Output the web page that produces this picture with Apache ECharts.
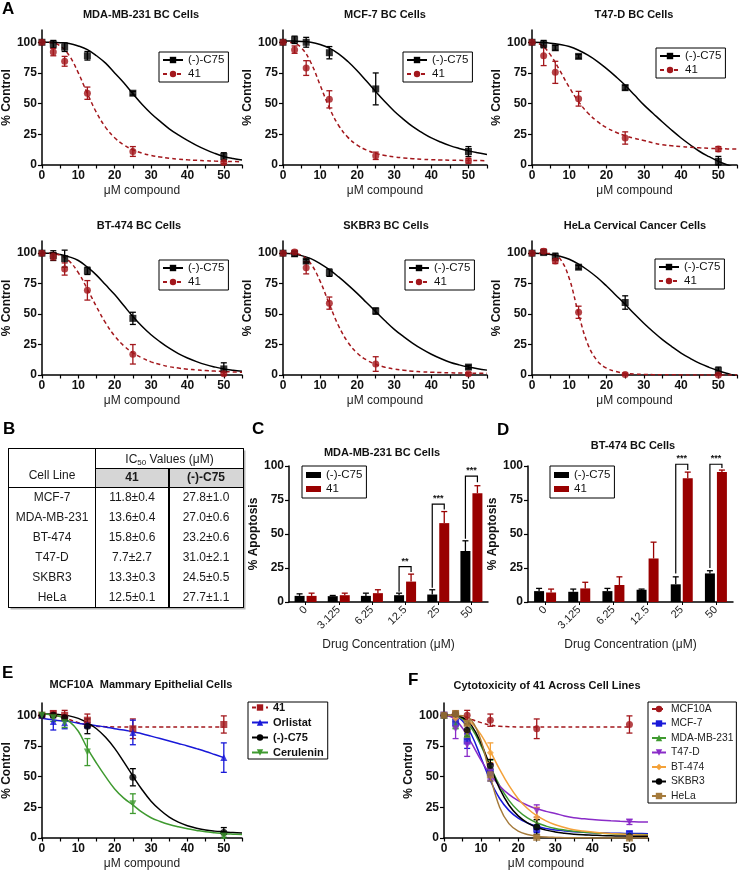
<!DOCTYPE html>
<html><head><meta charset="utf-8">
<script src="https://cdn.jsdelivr.net/npm/echarts@6/dist/echarts.min.js"></script>
<style>html,body{margin:0;padding:0;background:#fff}#c{width:739px;height:875px}</style>
</head><body><div id="c"></div><script>
const FONT = '"Liberation Sans", Arial, sans-serif';

// ---------- data ----------
const doses = [0, 3.125, 6.25, 12.5, 25, 50];
const curveX = [0, 2.5, 5, 7.5, 10, 12.5, 15, 17.5, 20, 22.5, 25, 27.5, 30, 32.5, 35, 37.5, 40, 42.5, 45, 47.5, 50, 52.5, 55];
const xTickLabels = [0, 10, 20, 30, 40, 50];
const yTickLabels = [0, 25, 50, 75, 100];

// Panel A: MDA-MB-231
const mdaC75 = [100, 98.5, 96, 89, 58.5, 7];
const mdaC75Err = [0, 3, 3.5, 3.5, 1.5, 3];
const mdaC75Fit = [100, 100, 99.7, 99, 97, 94, 89, 83, 75, 67, 58, 49.5, 42, 35.5, 29.5, 24.5, 20, 16, 12.5, 9.5, 7, 5.3, 4];
const mda41 = [100, 92, 84.5, 58.5, 11, 2];
const mda41Err = [0, 3, 4, 5, 4, 1];
const mda41Fit = [100, 99.7, 97.1, 89.2, 75.1, 58.2, 42.7, 30.7, 22.2, 16.4, 12.4, 9.7, 7.8, 6.5, 5.5, 4.8, 4.2, 3.8, 3.5, 3.2, 3.0, 2.85, 2.7];
// MCF-7
const mcf7C75 = [100, 102, 100, 91.5, 62, 11];
const mcf7C75Err = [0, 3, 4, 5, 13, 4];
const mcf7C75Fit = [101, 101, 100.7, 100, 98.2, 95.2, 90.6, 84.3, 76.8, 68.4, 59.8, 51.5, 43.8, 37.2, 31.2, 26.4, 22.1, 18.7, 15.8, 13.5, 11.5, 9.9, 8.5];
const mcf741 = [100, 94, 79, 53.5, 7.5, 3.5];
const mcf741Err = [0, 3, 6, 7, 3, 2];
const mcf741Fit = [100, 99.6, 95.4, 83.5, 65.2, 46.6, 32.2, 22.5, 16.2, 12.2, 9.5, 7.8, 6.6, 5.8, 5.1, 4.6, 4.3, 4.1, 3.9, 3.8, 3.7, 3.6, 3.5];
// T47-D
const t47dC75 = [100, 98.5, 95.5, 88.5, 63, 3];
const t47dC75Err = [0, 3, 2, 1.5, 2, 4];
const t47dC75Fit = [100, 99.8, 99.3, 98.2, 96.5, 93.5, 89.5, 84.5, 78.5, 72, 65, 57, 49, 42, 35, 28.3, 22, 16.3, 11, 6.8, 3, 0, -3];
const t47d41 = [100, 89, 75.5, 54, 22, 13];
const t47d41Err = [0, 8, 9, 6, 5, 2];
const t47d41Fit = [100, 97.8, 89.5, 76.8, 63.3, 51.6, 42.4, 35.5, 30.4, 26.7, 23.8, 21.7, 20, 18, 16.5, 15.7, 15, 14.5, 14, 13.6, 13.3, 13.1, 13];
// BT-474
const bt474C75 = [100, 98, 95.5, 85.5, 46.5, 5];
const bt474C75Err = [0, 4, 7, 3, 5, 5];
const bt474C75Fit = [100, 100, 99, 97, 94, 88.5, 82, 74, 66, 57, 48, 40, 33, 27.2, 22, 17.6, 14, 11, 8.5, 6.6, 5, 3.9, 3];
const bt47441 = [100, 97.5, 87, 69.5, 17, 1];
const bt47441Err = [0, 3, 5, 8, 8, 1];
const bt47441Fit = [100, 99.8, 98.3, 93.5, 84, 70.5, 56, 42.8, 32, 24, 18.2, 14, 10.8, 8.6, 6.8, 5.7, 4.8, 4.1, 3.6, 3.2, 2.8, 2.5, 2.3];
// SKBR3
const skbr3C75 = [100, 99.5, 93.5, 84, 52.5, 6.5];
const skbr3C75Err = [0, 2, 1.5, 3, 2.5, 1.5];
const skbr3C75Fit = [100, 99.5, 98, 95.5, 91.5, 86.5, 80.5, 74, 67, 59.5, 52, 44.5, 37.5, 31.5, 26, 21.2, 17, 13.5, 10.5, 8.3, 6.5, 5.1, 4];
const skbr341 = [100, 101, 88, 59, 9, 1];
const skbr341Err = [0, 1.5, 5, 5, 6, 1];
const skbr341Fit = [100, 99.9, 98.2, 91.4, 77.1, 58.1, 40.2, 26.9, 18, 12.4, 8.8, 6.4, 4.9, 3.9, 3.1, 2.6, 2.3, 2, 1.8, 1.6, 1.5, 1.45, 1.4];
// HeLa
const helaC75 = [100, 100.5, 97, 88.5, 59.5, 3.5];
const helaC75Err = [0, 1.5, 3, 1.5, 5.5, 3];
const helaC75Fit = [100, 99.8, 99, 97.5, 95, 91, 86, 80, 73, 65.5, 58, 50, 42.5, 35.5, 29, 23.3, 18, 13.5, 9.5, 6.3, 3.5, 1.2, -1];
const hela41 = [100, 101.5, 93.5, 51.5, 0.5, 0];
const hela41Err = [0, 2, 2, 5, 1, 1];
const hela41Fit = [100, 100, 99.6, 95.5, 79.2, 50, 25.1, 11.7, 5.6, 2.9, 1.5, 0.8, 0.5, 0.3, 0.2, 0.15, 0.1, 0.07, 0.05, 0.02, 0, 0, 0];

// Panel B table
const tableHeader = ['Cell Line', '41', '(-)-C75'];
const tableCellLines = ['MCF-7', 'MDA-MB-231', 'BT-474', 'T47-D', 'SKBR3', 'HeLa'];
const ic50Of41 = ['11.8±0.4', '13.6±0.4', '15.8±0.6', '7.7±2.7', '13.3±0.3', '12.5±0.1'];
const ic50OfC75 = ['27.8±1.0', '27.0±0.6', '23.2±0.6', '31.0±2.1', '24.5±0.5', '27.7±1.1'];

// Panels C / D
const drugConc = ['0', '3.125', '6.25', '12.5', '25', '50'];
const cC75 = [4.5, 4.3, 4.5, 5, 5.5, 37.5];
const cC75Err = [1.5, 0.5, 2, 1.5, 3.5, 7.5];
const c41 = [4.5, 5, 6.5, 15, 58, 80];
const c41Err = [2, 1.5, 2.5, 5.5, 8.5, 5.5];
const cSigCat = [3, 4, 5];
const cSigLeft = [7.5, 10.5, 46.5];
const cSigRight = [22, 68, 88];
const cSigTop = [26, 72, 92.5];
const cSigStars = [2, 3, 3];
const dC75 = [8, 7.5, 8, 9, 13, 21];
const dC75Err = [2, 2, 2, 0.5, 5.5, 2];
const d41 = [7, 10, 12.5, 32, 91, 95.5];
const d41Err = [2.5, 4.5, 6, 12, 4.5, 1.5];
const dSigCat = [4, 5];
const dSigLeft = [21, 25];
const dSigRight = [97, 98.5];
const dSigTop = [101.3, 101.3];
const dSigStars = [3, 3];

// Panel E: MCF10A
const e41 = [100, 101.5, 100, 96, 89, 92.5];
const e41Err = [0, 2, 4, 5, 8, 7];
const e41Fit = [101, 100.5, 99, 96.5, 94, 92, 91, 90.7, 90.5, 90.5, 90.5, 90.5, 90.5, 90.5, 90.5, 90.5, 90.5, 90.5, 90.5, 90.5, 90.5, null, null];
const eOrlistat = [100, 95, 94, 92, 86, 65.5];
const eOrlistatErr = [0, 7, 5, 2, 10, 12];
const eOrlistatFit = [97.5, 96.5, 95.5, 95, 93.5, 92.5, 91.5, 90.5, 89, 88, 86.5, 85, 83, 81, 79, 77, 75, 72.8, 70.5, 68, 65.5, null, null];
const eC75 = [100, 100, 98, 91, 49.5, 4.5];
const eC75Err = [0, 2, 2, 6, 7, 4];
const eC75Fit = [101, 101, 100.5, 99.5, 97.5, 94, 89, 82, 73, 62, 50.5, 39.5, 30, 22.8, 17, 12.9, 10, 8, 6.5, 5.6, 5, 4.4, 4];
const eCerulenin = [100, 98, 94, 70, 28, 1.5];
const eCeruleninErr = [0, 3, 4, 11, 8, 3];
const eCeruleninFit = [101, 100.5, 99, 95, 87, 73, 61, 50, 40, 32.5, 27, 21, 16.5, 13.5, 11, 9.1, 7.5, 6.2, 5, 4.2, 3.5, 3.1, 2.8];

// ---------- style ----------
const C = {
  black: '#000000', red: '#a3171c', blue: '#1818d8', green: '#3f9a30', purple: '#8a2cc8',
  orange: '#f4a23a', brown: '#a57b3c', barRed: '#990000'
};

const grids = [], xAxes = [], yAxes = [], series = [], legends = [], graphics = [];

function axisLineStyle() { return { show: true, onZero: false, lineStyle: { color: '#000', width: 1.5 } }; }
const tickLabelStyle = { fontFamily: FONT, fontWeight: 'bold', fontSize: 12, color: '#111' };

function doseAxes(gi) {
  xAxes.push({
    type: 'value', gridIndex: gi, min: 0, max: 55, interval: 5,
    name: 'μM compound', nameLocation: 'middle', nameGap: 20,
    nameTextStyle: { fontFamily: FONT, fontSize: 12, color: '#222' },
    axisLine: axisLineStyle(),
    axisTick: { show: true, length: 3.5, lineStyle: { color: '#000', width: 1.2 } },
    axisLabel: Object.assign({ customValues: xTickLabels, margin: 5 }, tickLabelStyle),
    splitLine: { show: false }
  });
  yAxes.push({
    type: 'value', gridIndex: gi, min: 0, max: 110, interval: 25,
    name: '% Control', nameLocation: 'middle', nameGap: 26,
    nameTextStyle: { fontFamily: FONT, fontWeight: 'bold', fontSize: 12, color: '#111' },
    axisLine: axisLineStyle(),
    axisTick: { show: true, length: 4, customValues: yTickLabels, lineStyle: { color: '#000', width: 1.2 } },
    axisLabel: Object.assign({ customValues: yTickLabels, margin: 5 }, tickLabelStyle),
    splitLine: { show: false }
  });
}

function errSeries(gi, xs, ys, es, color) {
  return {
    type: 'custom', xAxisIndex: gi, yAxisIndex: gi, silent: true, z: 3,
    data: xs.map((x, i) => [x, ys[i], es[i]]),
    renderItem: (params, api) => {
      const x = api.value(0), y = api.value(1), e = api.value(2);
      if (!e) return null;
      const hi = api.coord([x, y + e]), lo = api.coord([x, Math.max(0, y - e)]);
      const w = 3, st = { stroke: color, lineWidth: 1.3 };
      return { type: 'group', children: [
        { type: 'line', shape: { x1: hi[0], y1: hi[1], x2: lo[0], y2: lo[1] }, style: st },
        { type: 'line', shape: { x1: hi[0] - w, y1: hi[1], x2: hi[0] + w, y2: hi[1] }, style: st },
        { type: 'line', shape: { x1: lo[0] - w, y1: lo[1], x2: lo[0] + w, y2: lo[1] }, style: st }
      ] };
    }
  };
}

function addDosePanel(key, grid, items, legendOpts) {
  const gi = grids.length;
  grids.push(grid);
  doseAxes(gi);
  items.forEach(it => {
    series.push({
      type: 'line', name: key + '|' + it.name, xAxisIndex: gi, yAxisIndex: gi,
      data: curveX.map((x, i) => [x, it.fit[i]]),
      smooth: 0.4, showSymbol: false,
      symbol: it.symbol, symbolSize: 7, symbolRotate: it.rot || 0,
      lineStyle: { color: it.color, width: 1.5, type: it.dashed ? [4, 3] : 'solid' },
      itemStyle: { color: it.color }, z: 2, silent: true
    });
    series.push(errSeries(gi, doses, it.pts, it.err, it.color));
    series.push({
      type: 'scatter', xAxisIndex: gi, yAxisIndex: gi,
      data: doses.map((x, i) => [x, it.pts[i]]),
      symbol: it.symbol, symbolSize: 7, symbolRotate: it.rot || 0,
      itemStyle: { color: it.color }, z: 4, silent: true
    });
  });
  legends.push(Object.assign({
    show: true, selectedMode: false, orient: 'vertical',
    data: items.map(it => key + '|' + it.name),
    formatter: n => n.split('|')[1],
    borderColor: '#000', borderWidth: 1, borderRadius: 0,
    padding: [2, 4, 2, 3], itemGap: 2, itemWidth: 20, itemHeight: 8,
    textStyle: { fontFamily: FONT, fontSize: 11.5, color: '#111' }
  }, legendOpts));
}

function pair(c75, c75Err, c75Fit, d, dErr, dFit) {
  return [
    { name: '(-)-C75', pts: c75, err: c75Err, fit: c75Fit, color: C.black, symbol: 'rect' },
    { name: '41', pts: d, err: dErr, fit: dFit, color: C.red, symbol: 'circle', dashed: true }
  ];
}

// Panel A grids
addDosePanel('A1', { left: 38, top: 30, width: 204, height: 135 }, pair(mdaC75, mdaC75Err, mdaC75Fit, mda41, mda41Err, mda41Fit), { left: 159, top: 52 });
addDosePanel('A2', { left: 283, top: 30, width: 204, height: 135 }, pair(mcf7C75, mcf7C75Err, mcf7C75Fit, mcf741, mcf741Err, mcf741Fit), { left: 403, top: 52 });
addDosePanel('A3', { left: 532, top: 30, width: 205, height: 135 }, pair(t47dC75, t47dC75Err, t47dC75Fit, t47d41, t47d41Err, t47d41Fit), { left: 656, top: 48 });
addDosePanel('A4', { left: 38, top: 241, width: 204, height: 134 }, pair(bt474C75, bt474C75Err, bt474C75Fit, bt47441, bt47441Err, bt47441Fit), { left: 159, top: 260 });
addDosePanel('A5', { left: 283, top: 241, width: 204, height: 134 }, pair(skbr3C75, skbr3C75Err, skbr3C75Fit, skbr341, skbr341Err, skbr341Fit), { left: 405, top: 260 });
addDosePanel('A6', { left: 532, top: 241, width: 205, height: 134 }, pair(helaC75, helaC75Err, helaC75Fit, hela41, hela41Err, hela41Fit), { left: 655, top: 259 });

// Panel C / D bar charts
function addBarPanel(key, grid, blk, blkErr, red, redErr, sigCat, sigL, sigR, sigT, sigN, legendOpts) {
  const gi = grids.length;
  grids.push(grid);
  xAxes.push({
    type: 'category', gridIndex: gi, data: drugConc,
    name: 'Drug Concentration (μM)', nameLocation: 'middle', nameGap: 37,
    nameTextStyle: { fontFamily: FONT, fontSize: 12, color: '#222' },
    axisLine: axisLineStyle(),
    axisTick: { show: true, alignWithLabel: true, length: 3, lineStyle: { color: '#000' } },
    axisLabel: { rotate: 45, fontFamily: FONT, fontSize: 11, color: '#222', margin: 6, interval: 0 }
  });
  yAxes.push({
    type: 'value', gridIndex: gi, min: 0, max: 100, interval: 25,
    name: '% Apoptosis', nameLocation: 'middle', nameGap: 27,
    nameTextStyle: { fontFamily: FONT, fontWeight: 'bold', fontSize: 12, color: '#111' },
    axisLine: axisLineStyle(),
    axisTick: { show: true, length: 4, lineStyle: { color: '#000', width: 1.2 } },
    axisLabel: Object.assign({ margin: 5 }, tickLabelStyle),
    splitLine: { show: false }
  });
  const BW = 10, OFF = 6;
  [[blk, blkErr, C.black, '(-)-C75', -OFF], [red, redErr, C.barRed, '41', OFF]].forEach(([vals, errs, col, nm, dx]) => {
    series.push({ type: 'bar', name: key + '|' + nm, xAxisIndex: gi, yAxisIndex: gi, data: vals,
      barWidth: BW, barGap: '20%', itemStyle: { color: col }, silent: true, z: 2 });
    series.push({
      type: 'custom', xAxisIndex: gi, yAxisIndex: gi, silent: true, z: 3,
      data: vals.map((v, i) => [i, v, errs[i]]),
      renderItem: (params, api) => {
        const p = api.coord([api.value(0), api.value(1)]);
        const q = api.coord([api.value(0), api.value(1) + api.value(2)]);
        const x = p[0] + dx, st = { stroke: col, lineWidth: 1.3 };
        return { type: 'group', children: [
          { type: 'line', shape: { x1: x, y1: p[1], x2: x, y2: q[1] }, style: st },
          { type: 'line', shape: { x1: x - 3, y1: q[1], x2: x + 3, y2: q[1] }, style: st }
        ] };
      }
    });
  });
  series.push({
    type: 'custom', xAxisIndex: gi, yAxisIndex: gi, silent: true, z: 5,
    data: sigCat.map((c, i) => [c, sigL[i], sigR[i], sigT[i], sigN[i]]),
    renderItem: (params, api) => {
      const c = api.value(0);
      const l = api.coord([c, api.value(1)]), r = api.coord([c, api.value(2)]), t = api.coord([c, api.value(3)]);
      const xl = t[0] - OFF, xr = t[0] + OFF;
      return { type: 'group', children: [
        { type: 'polyline', shape: { points: [[xl, l[1]], [xl, t[1]], [xr, t[1]], [xr, r[1]]] }, style: { stroke: '#000', lineWidth: 1.2, fill: null } },
        { type: 'text', x: t[0], y: t[1] - 1, style: { text: '*'.repeat(api.value(4)), textAlign: 'center', textVerticalAlign: 'bottom', font: 'bold 9px ' + FONT, fill: '#111' } }
      ] };
    }
  });
  legends.push(Object.assign({
    show: true, selectedMode: false, orient: 'vertical',
    data: [key + '|(-)-C75', key + '|41'],
    formatter: n => n.split('|')[1],
    borderColor: '#000', borderWidth: 1, borderRadius: 0,
    padding: [3, 4, 3, 4], itemGap: 2, itemWidth: 15, itemHeight: 6, icon: 'rect',
    textStyle: { fontFamily: FONT, fontSize: 11.5, color: '#111' }
  }, legendOpts));
}
addBarPanel('C', { left: 289, top: 466, width: 199, height: 136 }, cC75, cC75Err, c41, c41Err, cSigCat, cSigLeft, cSigRight, cSigTop, cSigStars, { left: 302, top: 466 });
addBarPanel('D', { left: 528, top: 466, width: 205, height: 136 }, dC75, dC75Err, d41, d41Err, dSigCat, dSigLeft, dSigRight, dSigTop, dSigStars, { left: 550, top: 466 });

// Panel E
addDosePanel('E', { left: 38, top: 703, width: 204, height: 135 }, [
  { name: '41', pts: e41, err: e41Err, fit: e41Fit, color: C.red, symbol: 'rect', dashed: true },
  { name: 'Orlistat', pts: eOrlistat, err: eOrlistatErr, fit: eOrlistatFit, color: C.blue, symbol: 'triangle' },
  { name: '(-)-C75', pts: eC75, err: eC75Err, fit: eC75Fit, color: C.black, symbol: 'circle' },
  { name: 'Cerulenin', pts: eCerulenin, err: eCeruleninErr, fit: eCeruleninFit, color: C.green, symbol: 'triangle', rot: 180 }
], { left: 248, top: 702, padding: [0, 4, 1, 3], itemGap: 4, itemWidth: 16,
     textStyle: { fontFamily: FONT, fontSize: 11, fontWeight: 'bold', color: '#111' } });

// Panel F
addDosePanel('F', { left: 444, top: 703, width: 204, height: 135 }, [
  { name: 'MCF10A', pts: e41, err: e41Err, fit: e41Fit, color: C.red, symbol: 'circle', dashed: true },
  { name: 'MCF-7', pts: mcf741, err: mcf741Err, fit: mcf741Fit, color: C.blue, symbol: 'rect' },
  { name: 'MDA-MB-231', pts: mda41, err: mda41Err, fit: mda41Fit, color: C.green, symbol: 'triangle' },
  { name: 'T47-D', pts: t47d41, err: t47d41Err, fit: t47d41Fit, color: C.purple, symbol: 'triangle', rot: 180 },
  { name: 'BT-474', pts: bt47441, err: bt47441Err, fit: bt47441Fit, color: C.orange, symbol: 'diamond' },
  { name: 'SKBR3', pts: skbr341, err: skbr341Err, fit: skbr341Fit, color: C.black, symbol: 'circle' },
  { name: 'HeLa', pts: hela41, err: hela41Err, fit: hela41Fit, color: C.brown, symbol: 'rect' }
], { left: 648, top: 702, padding: [2, 3, 2, 3], itemGap: 4.5, itemWidth: 14,
     textStyle: { fontFamily: FONT, fontSize: 10.3, color: '#222' } });

// ---------- titles & panel letters ----------
const panelTitles = [
  ['MDA-MB-231 BC Cells', 141, 15], ['MCF-7 BC Cells', 385, 15], ['T47-D BC Cells', 634, 15],
  ['BT-474 BC Cells', 139, 226], ['SKBR3 BC Cells', 386, 226], ['HeLa Cervical Cancer Cells', 635, 226],
  ['MDA-MB-231 BC Cells', 382, 453], ['BT-474 BC Cells', 633, 446],
  ['MCF10A  Mammary Epithelial Cells', 141, 685], ['Cytotoxicity of 41 Across Cell Lines', 547, 686]
];
const panelLetters = [['A', 2, 9], ['B', 3, 429], ['C', 252, 429], ['D', 497, 430], ['E', 2, 673], ['F', 408, 680]];
panelTitles.forEach(([t, x, y]) => graphics.push({ type: 'text', x, y, silent: true,
  style: { text: t, textAlign: 'center', textVerticalAlign: 'middle', font: 'bold 11px ' + FONT, fill: '#111' } }));
panelLetters.forEach(([t, x, y]) => graphics.push({ type: 'text', x, y, silent: true,
  style: { text: t, textAlign: 'left', textVerticalAlign: 'middle', font: 'bold 17px ' + FONT, fill: '#000' } }));

// ---------- Panel B table ----------
(function () {
  const X0 = 8.5, X1 = 95.5, X2 = 168.5, X3 = 243.5, Y0 = 448.5, Y1 = 468.5, Y2 = 487.5, RH = 20;
  const Y3 = Y2 + RH * tableCellLines.length;
  const g = [];
  g.push({ type: 'rect', shape: { x: X0 + 2, y: Y0 + 2, width: X3 - X0, height: Y3 - Y0 }, style: { fill: '#b5b5b5' } });
  g.push({ type: 'rect', shape: { x: X0, y: Y0, width: X3 - X0, height: Y3 - Y0 }, style: { fill: '#fff', stroke: '#000', lineWidth: 1 } });
  g.push({ type: 'rect', shape: { x: X1, y: Y1, width: X3 - X1, height: Y2 - Y1 }, style: { fill: '#d6d6d6' } });
  const ln = (x1, y1, x2, y2, w) => g.push({ type: 'line', shape: { x1, y1, x2, y2 }, style: { stroke: '#000', lineWidth: w || 1 } });
  ln(X1, Y1, X3, Y1); ln(X0, Y2, X3, Y2); ln(X1, Y0, X1, Y3); ln(X2 + 0.5, Y1, X2 + 0.5, Y3, 2);
  ln(X0, Y0, X3, Y0); ln(X0, Y3, X3, Y3); ln(X0, Y0, X0, Y3); ln(X3, Y0, X3, Y3);
  const txt = (t, x, y, bold, rich) => g.push({ type: 'text', x, y, style: Object.assign({ text: t, textAlign: 'center', textVerticalAlign: 'middle',
    font: (bold ? 'bold ' : '') + '12px ' + FONT, fill: '#1a1a1a' }, rich ? { rich } : {}) });
  txt('IC{s|50} Values (μM)', (X1 + X3) / 2, (Y0 + Y1) / 2 + 1, false, { s: { fontSize: 8, fontFamily: FONT, padding: [6, 0, 0, 0] } });
  txt(tableHeader[0], (X0 + X1) / 2, (Y1 + Y2) / 2 - 2, false);
  txt(tableHeader[1], (X1 + X2) / 2, (Y1 + Y2) / 2, true);
  txt(tableHeader[2], (X2 + X3) / 2, (Y1 + Y2) / 2, true);
  tableCellLines.forEach((cl, i) => {
    const y = Y2 + RH * i + RH / 2;
    txt(cl, (X0 + X1) / 2, y); txt(ic50Of41[i], (X1 + X2) / 2, y); txt(ic50OfC75[i], (X2 + X3) / 2, y);
  });
  g.forEach(e => { e.silent = true; graphics.push(e); });
})();

const chart = echarts.init(document.getElementById('c'), null, { renderer: 'canvas' });
chart.setOption({
  animation: false,
  backgroundColor: '#fff',
  textStyle: { fontFamily: FONT },
  grid: grids, xAxis: xAxes, yAxis: yAxes, series, legend: legends,
  graphic: { elements: graphics }
});
</script></body></html>
